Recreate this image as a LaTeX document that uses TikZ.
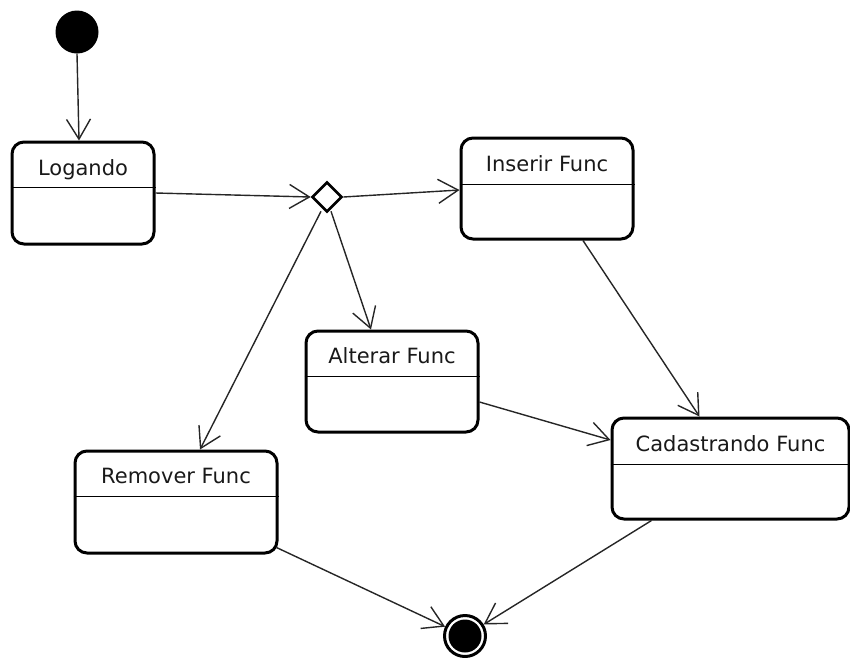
\documentclass[tikz,border=0pt]{standalone}
\usepackage{fontspec}
\setmainfont{DejaVu Sans}
\usetikzlibrary{arrows.meta,shapes.geometric}

\tikzset{
  statebox/.style={draw, line width=3pt, rounded corners=12pt, rectangle, inner sep=0pt},
  divider/.style={draw, line width=1.6pt},
  title/.style={inner sep=0pt, anchor=base, font=\fontsize{21}{25}\selectfont, text=black!90},
  flow/.style={draw, line width=1.4pt, black!85,
    -{Straight Barb[length=20pt, width=24pt, line width=1.4pt]}},
  choice/.style={draw, diamond, line width=2.6pt, inner sep=0pt,
    minimum width=30pt, minimum height=30pt, fill=white},
}

\begin{document}
\begin{tikzpicture}[x=1pt, y=-1pt]
  \useasboundingbox (0,0) rectangle (850,657);

  % initial and final pseudo-states
  \node[circle, fill=black, inner sep=0pt, minimum size=43pt] (init) at (77,32) {};
  \node[circle, draw, line width=3pt, inner sep=0pt, minimum size=41pt] (final) at (465,636) {};
  \fill (final.center) circle[radius=16.5pt];

  % choice point
  \node[choice] (dia) at (327,197) {};

  % states
  \node[statebox, minimum width=142pt, minimum height=102pt] (logando) at (83,193) {};
  \node[statebox, minimum width=172pt, minimum height=101pt] (inserir) at (547,188.5) {};
  \node[statebox, minimum width=172pt, minimum height=101pt] (alterar) at (392,381.5) {};
  \node[statebox, minimum width=202pt, minimum height=102pt] (remover) at (176,502) {};
  \node[statebox, minimum width=237pt, minimum height=101pt] (cadastro) at (730.5,468.5) {};

  % compartment dividers
  \draw[divider] ([yshift=-47pt]logando.north west) -- ([yshift=-47pt]logando.north east);
  \draw[divider] ([yshift=-48pt]inserir.north west) -- ([yshift=-48pt]inserir.north east);
  \draw[divider] ([yshift=-47pt]alterar.north west) -- ([yshift=-47pt]alterar.north east);
  \draw[divider] ([yshift=-47pt]remover.north west) -- ([yshift=-47pt]remover.north east);
  \draw[divider] ([yshift=-48pt]cadastro.north west) -- ([yshift=-48pt]cadastro.north east);

  % state names, set on a common baseline below each top edge
  \node[title] (logandoT) at ([yshift=-35pt]logando.north) {Logando};
  \node[title] (inserirT) at ([yshift=-35pt]inserir.north) {Inserir Func};
  \node[title] (alterarT) at ([yshift=-34pt]alterar.north) {Alterar Func};
  \node[title] (removerT) at ([yshift=-34pt]remover.north) {Remover Func};
  \node[title] (cadastroT) at ([yshift=-35pt]cadastro.north) {Cadastrando Func};

  % transitions
  \draw[flow] (init.south) -- ([xshift=-4pt]logando.north);
  \draw[flow] (logando.east) -- (dia.west);
  \draw[flow] (dia.east) -- ([yshift=-1.5pt]inserir.west);
  \draw[flow] ([xshift=-6pt,yshift=2pt]dia.south) -- ([xshift=24pt]remover.north);
  \draw[flow] ([xshift=4pt,yshift=2pt]dia.south) -- ([xshift=-21pt]alterar.north);
  \draw[flow] ([xshift=36pt]inserir.south) -- ([xshift=-31pt]cadastro.north);
  \draw[flow] ([yshift=-20.5pt]alterar.east) -- ([yshift=28.5pt]cadastro.west);
  \draw[flow] ([xshift=-2pt,yshift=7pt]remover.south east) -- (final);
  \draw[flow] ([xshift=-79pt]cadastro.south) -- (final);
\end{tikzpicture}
\end{document}
